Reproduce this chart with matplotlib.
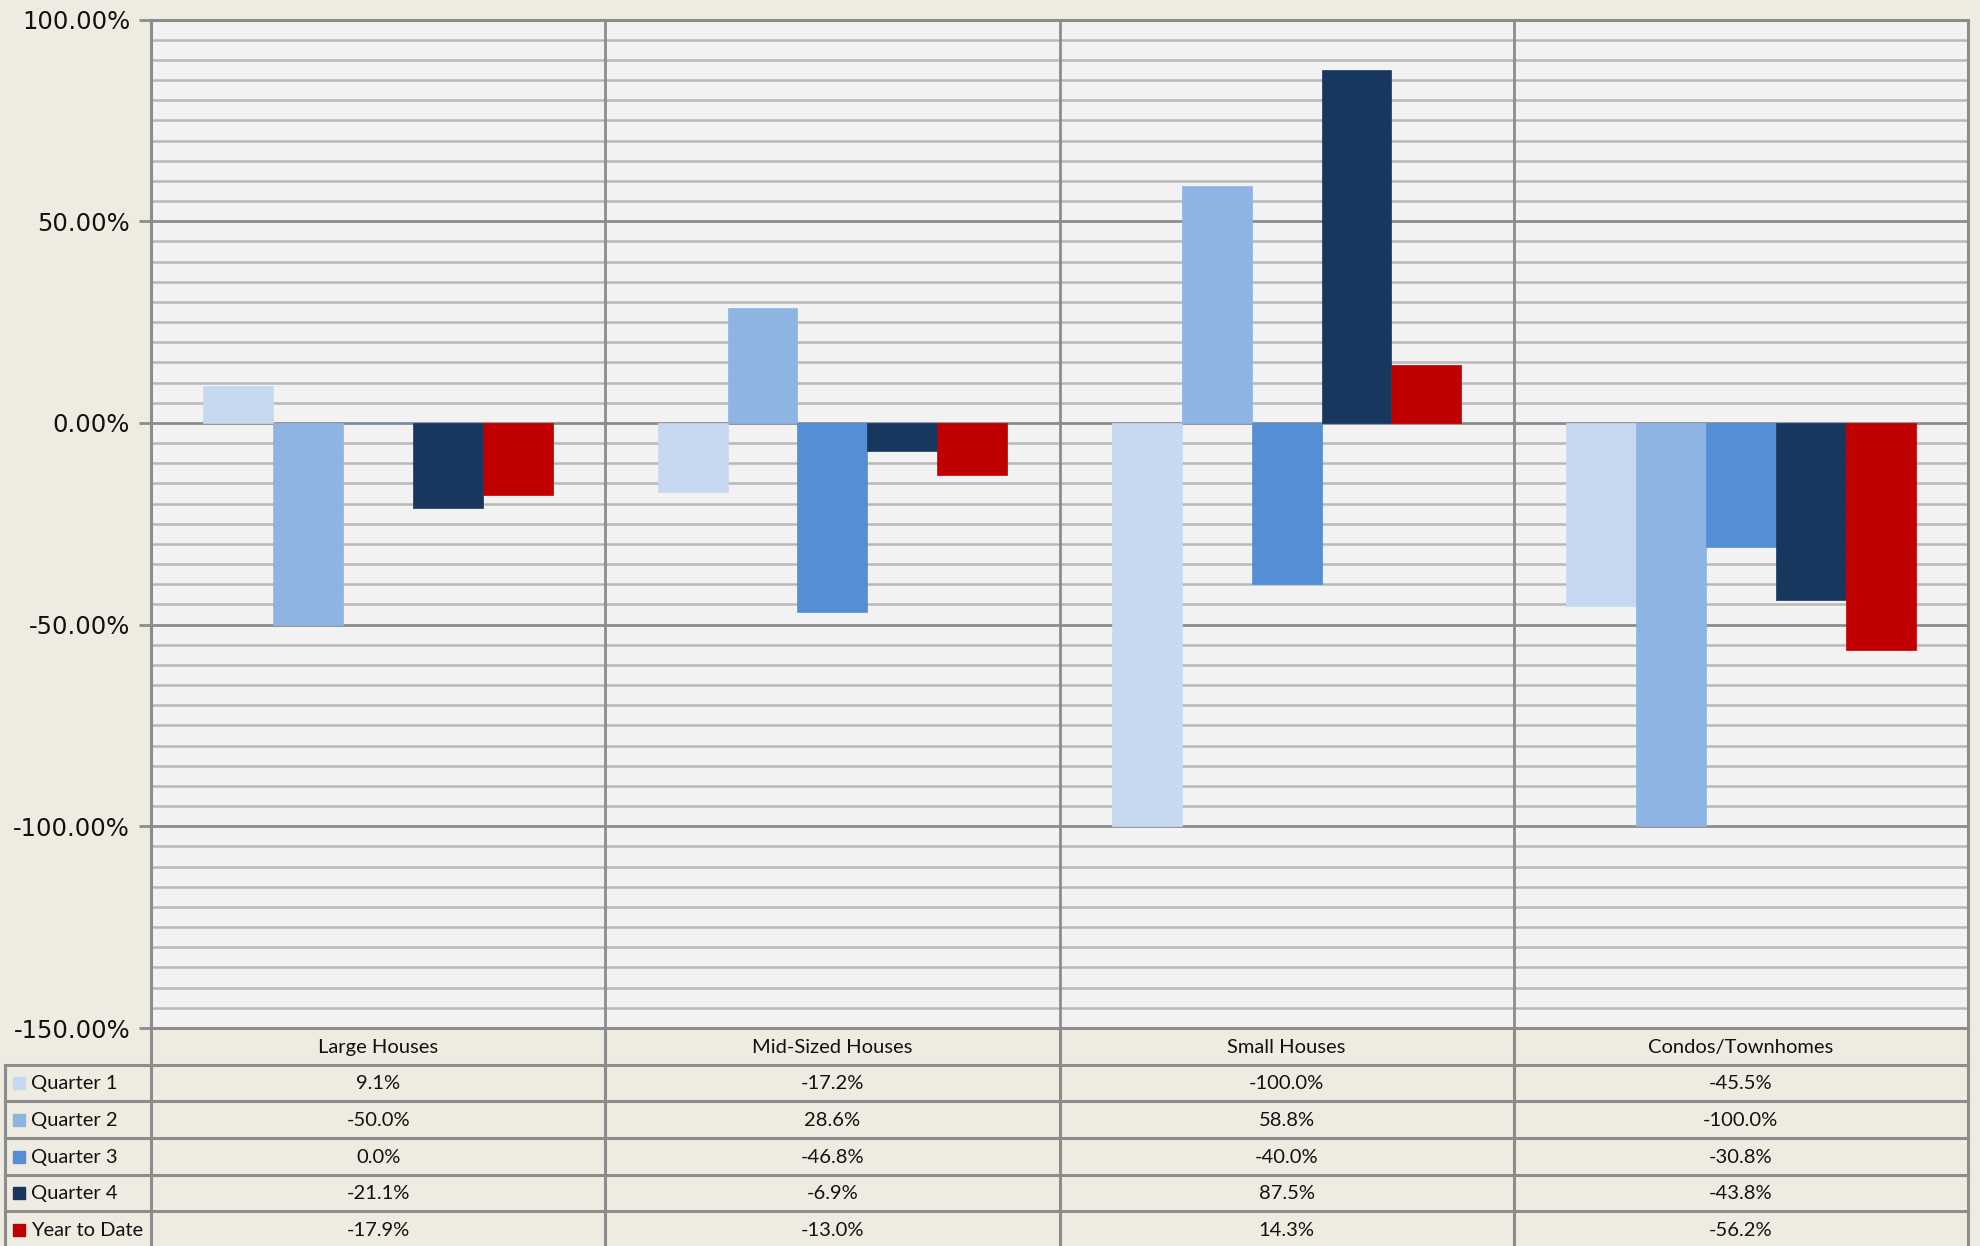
import matplotlib
matplotlib.use("Agg")
import matplotlib.pyplot as plt
import numpy as np
from matplotlib.ticker import MultipleLocator, FuncFormatter

categories = ["Large Houses", "Mid-Sized Houses", "Small Houses", "Condos/Townhomes"]
series_names = ["Quarter 1", "Quarter 2", "Quarter 3", "Quarter 4", "Year to Date"]
q1 = [9.1, -17.2, -100.0, -45.5]
q2 = [-50.0, 28.6, 58.8, -100.0]
q3 = [0.0, -46.8, -40.0, -30.8]
q4 = [-21.1, -6.9, 87.5, -43.8]
ytd = [-17.9, -13.0, 14.3, -56.2]
series_values = [q1, q2, q3, q4, ytd]
colors = ["#C6D9F1", "#8EB4E3", "#558ED5", "#17375E", "#C00000"]

W, H = 1980, 1246
BG = "#EEECE1"
GRID_MAJ = "#8C8C8C"
GRID_MIN = "#B8B8B8"

fig = plt.figure(figsize=(W / 100, H / 100), dpi=100, facecolor=BG)

left, right, top, bottom = 151, 1968, 19.5, 1028
ax = fig.add_axes([left / W, 1 - bottom / H, (right - left) / W, (bottom - top) / H])
ax.set_facecolor("#F2F2F2")
ax.set_ylim(-150, 100)
ax.set_xlim(-0.5, len(categories) - 0.5)

ax.yaxis.set_major_locator(MultipleLocator(50))
ax.yaxis.set_minor_locator(MultipleLocator(5))
ax.yaxis.set_major_formatter(FuncFormatter(lambda v, p: f"{v:.2f}%"))
ax.grid(True, which="minor", axis="y", color=GRID_MIN, lw=1.8, zorder=0)
ax.grid(True, which="major", axis="y", color=GRID_MAJ, lw=2.0, zorder=0)
ax.set_axisbelow(True)
ax.tick_params(axis="y", which="major", length=9, width=2, color=GRID_MAJ,
               labelsize=17.5, pad=6, labelcolor="#111111")
ax.tick_params(axis="y", which="minor", length=0)
ax.tick_params(axis="x", length=0, labelbottom=False)
for s in ax.spines.values():
    s.set_color(GRID_MAJ)
    s.set_linewidth(2.2)

n = len(series_names)
bw = 1.0 / (n + 1.5)
x = np.arange(len(categories))
for j, (vals, c) in enumerate(zip(series_values, colors)):
    ax.bar(x + (j - (n - 1) / 2) * bw, vals, width=bw, color=c, zorder=3,
           edgecolor=c, linewidth=0.5)

for b in range(1, len(categories)):
    ax.axvline(b - 0.5, color=GRID_MAJ, lw=2, zorder=2)

# Data table below the plot (pixel coordinates overlay)
ov = fig.add_axes([0, 0, 1, 1], facecolor="none")
ov.set_xlim(0, W)
ov.set_ylim(H, 0)
ov.axis("off")

tcol = "#8C8C8C"
header_bottom = 1064.5
row_h = 36.7
col_w = (right - left) / len(categories)
row_tops = [header_bottom + i * row_h for i in range(n)]

ov.plot([5, right], [header_bottom, header_bottom], color=tcol, lw=2.2)
for i in range(1, n):
    ov.plot([5, right], [row_tops[i], row_tops[i]], color=tcol, lw=2.2)
ov.plot([5, 5], [header_bottom, H], color=tcol, lw=2.2)
for k in range(len(categories) + 1):
    xx = left + k * col_w
    ov.plot([xx, xx], [bottom, H], color=tcol, lw=2.2)

tfont = dict(family=["Lato", "DejaVu Sans"], fontsize=14.5, color="#111111")
for k, cat in enumerate(categories):
    ov.text(left + (k + 0.5) * col_w, (bottom + header_bottom) / 2 + 1, cat,
            ha="center", va="center", **tfont)
for i, (name, vals, c) in enumerate(zip(series_names, series_values, colors)):
    yc = row_tops[i] + row_h / 2 + 1
    ov.add_patch(plt.Rectangle((13, yc - 6.5), 12, 12, color=c))
    ov.text(31, yc, name, ha="left", va="center", **tfont)
    for k, v in enumerate(vals):
        ov.text(left + (k + 0.5) * col_w, yc, f"{v:.1f}%", ha="center", va="center", **tfont)

fig.savefig("out.png", dpi=100, facecolor=BG)
